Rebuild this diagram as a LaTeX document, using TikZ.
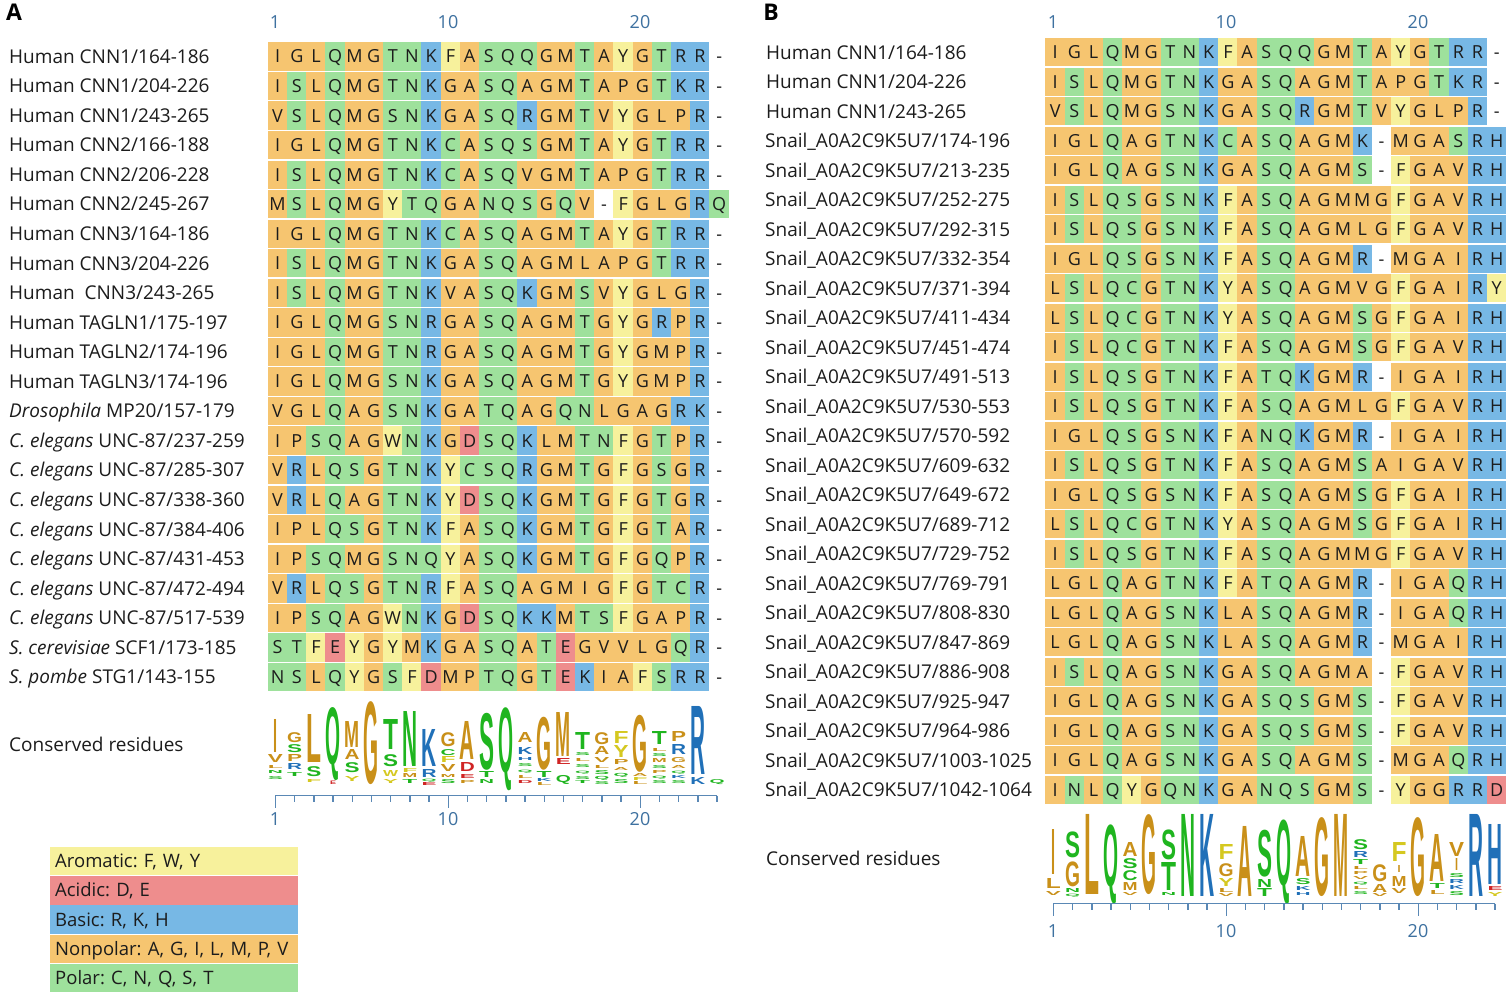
\documentclass[tikz,border=0pt]{standalone}
\usepackage{fontspec}
\setmainfont{Open Sans}
\newfontfamily\logofont{Liberation Sans}
\usepackage{graphicx}
\definecolor{cAro}{HTML}{F7F19C}
\definecolor{cAci}{HTML}{EE8D8D}
\definecolor{cBas}{HTML}{77B8E5}
\definecolor{cNon}{HTML}{F6C570}
\definecolor{cPol}{HTML}{9EE19C}
\definecolor{numblue}{HTML}{3E71A0}
\definecolor{axblue}{HTML}{5A88B5}
\definecolor{lAro}{HTML}{D5C820}
\definecolor{lAci}{HTML}{D02424}
\definecolor{lBas}{HTML}{2070B8}
\definecolor{lNon}{HTML}{C99019}
\definecolor{lPol}{HTML}{1FB51F}
\definecolor{txt}{HTML}{1C1C1C}
\makeatletter
\def\defres#1#2{\expandafter\def\csname rc@#1\endcsname{c#2}\expandafter\def\csname lc@#1\endcsname{l#2}}
\defres{F}{Aro}\defres{W}{Aro}\defres{Y}{Aro}
\defres{D}{Aci}\defres{E}{Aci}
\defres{R}{Bas}\defres{K}{Bas}\defres{H}{Bas}
\defres{A}{Non}\defres{G}{Non}\defres{I}{Non}\defres{L}{Non}\defres{M}{Non}\defres{P}{Non}\defres{V}{Non}
\defres{C}{Pol}\defres{N}{Pol}\defres{Q}{Pol}\defres{S}{Pol}\defres{T}{Pol}
\expandafter\def\csname rc@-\endcsname{white}
\newcount\resi
\newcount\lgn
\newcommand\seqrow[4]{%
  \resi=0
  \edef\seqstr{#4}%
  \expandafter\seqrow@i\expandafter{\seqstr}{#1}{#2}{#3}%
}
\def\seqrow@i#1#2#3#4{%
  \@tfor\resch:=#1\do{%
    \advance\resi by 1
    \edef\rescol{\csname rc@\resch\endcsname}%
    \pgfmathsetmacro\myXC{#3+(\the\resi-0.5)*19.2}%
    \node[cell,fill=\rescol] (#2c\the\resi) at (\myXC,#4) {\resch};%
  }%
}
\newcommand\logoL[5][15]{%
  \pgfmathsetmacro\myLX{\lgx+(#2-1)*19.2}%
  \pgfmathsetmacro\myLH{#3-#4}%
  \edef\lcc{\csname lc@#5\endcsname}%
  \global\advance\lgn by 1
  \node[logo,text=\lcc] (lg\the\lgn) at (\myLX,#3) {\resizebox*{#1pt}{\myLH pt}{\logofont\bfseries #5}};%
}
\makeatother
\frenchspacing
\begin{document}
\begin{tikzpicture}[x=1pt,y=-1pt,
  cell/.style={rectangle,inner sep=0pt,minimum width=19.45pt,minimum height=28.3pt,text height=12.9pt,text depth=0pt,font=\fontsize{18}{18}\selectfont,text=txt},
  lab/.style={anchor=west,inner sep=0pt,font=\fontsize{19}{20}\selectfont,text height=13.5pt,text depth=0pt,text=txt},
  num/.style={inner sep=0pt,font=\fontsize{18}{18}\selectfont,text=numblue,text height=12.9pt,text depth=0pt},
  logo/.style={anchor=south,inner sep=0pt},
  axis/.style={draw=axblue,line width=1.4pt},
  legbox/.style={anchor=west,inner xsep=5pt,inner ysep=0pt,minimum height=28.5pt,text width=238pt,align=left,font=\fontsize{18.5}{20}\selectfont\frenchspacing,text height=13.2pt,text depth=0pt,text=txt},
  panel/.style={inner sep=0pt,font=\fontsize{23}{24}\selectfont\bfseries,text=black}
]
\fill[white] (0,0) rectangle (1507,1004);
\useasboundingbox (0,0) rectangle (1507,1004);

% ---------------- Panel A ----------------
\node[panel] (panA) at (14,12) {A};
\node[num] (nA1) at (275,22) {1};
\node[num] (nA10) at (448,22) {10};
\node[num] (nA20) at (640,22) {20};
\foreach \s [count=\r] in {IGLQMGTNKFASQQGMTAYGTRR-,ISLQMGTNKGASQAGMTAPGTKR-,VSLQMGSNKGASQRGMTVYGLPR-,IGLQMGTNKCASQSGMTAYGTRR-,ISLQMGTNKCASQVGMTAPGTRR-,MSLQMGYTQGANQSGQV-FGLGRQ,IGLQMGTNKCASQAGMTAYGTRR-,ISLQMGTNKGASQAGMLAPGTRR-,ISLQMGTNKVASQKGMSVYGLGR-,IGLQMGSNRGASQAGMTGYGRPR-,IGLQMGTNRGASQAGMTGYGMPR-,IGLQMGSNKGASQAGMTGYGMPR-,VGLQAGSNKGATQAGQNLGAGRK-,IPSQAGWNKGDSQKLMTNFGTPR-,VRLQSGTNKYCSQRGMTGFGSGR-,VRLQAGTNKYDSQKGMTGFGTGR-,IPLQSGTNKFASQKGMTGFGTAR-,IPSQMGSNQYASQKGMTGFGQPR-,VRLQSGTNRFASQAGMIGFGTCR-,IPSQAGWNKGDSQKKMTSFGAPR-,STFEYGYMKGASQATEGVVLGQR-,NSLQYGSFDMPTQGTEKIAFSRR-}{
  \pgfmathsetmacro\yc{41.7+(\r-0.5)*29.55}
  \seqrow{A\r}{268}{\yc}{\s}
}
\foreach \lab [count=\r] in {Human CNN1/164-186,Human CNN1/204-226,Human CNN1/243-265,Human CNN2/166-188,Human CNN2/206-228,Human CNN2/245-267,Human CNN3/164-186,Human CNN3/204-226,Human\ \ CNN3/243-265,Human TAGLN1/175-197,Human TAGLN2/174-196,Human TAGLN3/174-196,\textit{Drosophila} MP20/157-179,\textit{C. elegans} UNC-87/237-259,\textit{C. elegans} UNC-87/285-307,\textit{C. elegans} UNC-87/338-360,\textit{C. elegans} UNC-87/384-406,\textit{C. elegans} UNC-87/431-453,\textit{C. elegans} UNC-87/472-494,\textit{C. elegans} UNC-87/517-539,\textit{S. cerevisiae} SCF1/173-185,\textit{S. pombe} STG1/143-155}{
  \pgfmathsetmacro\yc{41.7+(\r-0.5)*29.55}
  \node[lab] (Alab\r) at (9,\yc) {\lab};
}
\node[lab] (consA) at (9,745) {Conserved residues};
% logo A
\def\lgx{275.4}
\logoL[4]{1}{753}{720}{I}\logoL{1}{763}{755}{V}\logoL{1}{769}{766}{L}\logoL{1}{774}{771}{N}\logoL{1}{780}{777}{S}
\logoL{2}{743}{733}{G}\logoL{2}{753}{745}{S}\logoL{2}{762}{755}{P}\logoL{2}{770}{764}{R}\logoL{2}{777}{773}{T}
\logoL{3}{763}{715}{L}\logoL{3}{777}{767}{S}\logoL{3}{783}{780}{F}
\logoL{4}{781}{708}{Q}\logoL[6]{4}{785}{781.5}{E}
\logoL{5}{748}{722}{M}\logoL{5}{760}{750}{A}\logoL{5}{773}{763}{S}\logoL{5}{782}{777}{Y}
\logoL{6}{785}{702}{G}
\logoL{7}{750}{720}{T}\logoL{7}{767}{755}{S}\logoL{7}{777}{771}{W}\logoL{7}{784}{780}{Y}
\logoL{8}{767}{712}{N}\logoL{8}{773}{769}{F}\logoL{8}{778}{774}{M}\logoL{8}{784}{780}{T}
\logoL{9}{767}{730}{K}\logoL{9}{778}{770}{R}\logoL{9}{782}{779}{Q}\logoL{9}{786}{783}{E}
\logoL{10}{747}{733}{G}\logoL{10}{756}{750}{C}\logoL{10}{763}{757}{F}\logoL{10}{772}{765}{V}\logoL{10}{778}{775}{M}\logoL{10}{784}{780}{S}
\logoL{11}{760}{722}{A}\logoL{11}{772}{763}{D}\logoL{11}{779}{775}{E}\logoL{11}{784}{781}{P}
\logoL{12}{770}{713}{S}\logoL{12}{778}{772}{T}\logoL{12}{784}{780}{N}
\logoL{13}{791}{708}{Q}
\logoL{14}{743}{733}{A}\logoL{14}{755}{748}{K}\logoL{14}{761}{758}{H}\logoL{14}{767}{764}{S}\logoL{14}{773}{770}{Q}\logoL{14}{779}{776}{L}\logoL{14}{784}{781}{D}
\logoL{15}{770}{717}{G}\logoL{15}{778}{772}{T}\logoL{15}{782}{779}{K}\logoL{15}{786}{783}{L}
\logoL{16}{757}{713}{M}\logoL{16}{765}{759}{E}\logoL{16}{785}{776}{Q}
\logoL{17}{750}{733}{T}\logoL{17}{756}{753}{S}\logoL{17}{762}{759}{L}\logoL{17}{768}{765}{S}\logoL{17}{774}{771}{Q}\logoL{17}{780}{777}{S}\logoL{17}{784}{781}{T}
\logoL{18}{745}{733}{G}\logoL{18}{755}{747}{A}\logoL{18}{763}{758}{V}\logoL{18}{769}{766}{L}\logoL{18}{775}{771}{S}\logoL{18}{781}{777}{Q}\logoL{18}{785}{782}{S}
\logoL{19}{744}{732}{F}\logoL{19}{758}{746}{Y}\logoL{19}{765}{760}{P}\logoL{19}{771}{768}{A}\logoL{19}{778}{774}{Q}\logoL{19}{784}{780}{S}
\logoL{20}{772}{715}{G}\logoL{20}{777}{774}{A}\logoL{20}{781}{778}{F}\logoL{20}{785}{782}{L}
\logoL{21}{745}{732}{T}\logoL{21}{752}{749}{L}\logoL{21}{757}{754}{S}\logoL{21}{763}{759}{M}\logoL{21}{769}{766}{S}\logoL{21}{774}{771}{P}\logoL{21}{779}{776}{Q}\logoL{21}{784}{781}{S}
\logoL{22}{742}{732}{P}\logoL{22}{755}{745}{R}\logoL{22}{763}{758}{G}\logoL{22}{769}{766}{A}\logoL{22}{774}{771}{Q}\logoL{22}{779}{776}{K}\logoL{22}{784}{781}{S}
\logoL{23}{775}{707}{R}\logoL{23}{785}{778}{K}
\logoL{24}{785}{780}{Q}
% axis A
\draw[axis] (275.4,795.5) -- (717,795.5);
\foreach \i in {1,...,24}{
  \pgfmathsetmacro\tx{275.4+(\i-1)*19.2}
  \draw[axis] (\tx,795.5) -- (\tx,801.5);
}
\foreach \i in {1,10,20}{
  \pgfmathsetmacro\tx{275.4+(\i-1)*19.2}
  \draw[axis] (\tx,795.5) -- (\tx,808);
}
\node[num] (aA1) at (275,819) {1};
\node[num] (aA10) at (448,819) {10};
\node[num] (aA20) at (640,819) {20};

% legend
\node[legbox,fill=cAro] (legAro) at (50,861) {Aromatic: F, W, Y};
\node[legbox,fill=cAci] (legAci) at (50,890.3) {Acidic: D, E};
\node[legbox,fill=cBas] (legBas) at (50,919.6) {Basic: R, K, H};
\node[legbox,fill=cNon] (legNon) at (50,948.9) {Nonpolar: A, G, I, L, M, P, V};
\node[legbox,fill=cPol] (legPol) at (50,978.2) {Polar: C, N, Q, S, T};

% ---------------- Panel B ----------------
\node[panel] (panB) at (771,12) {B};
\node[num] (nB1) at (1053,22) {1};
\node[num] (nB10) at (1226,22) {10};
\node[num] (nB20) at (1418,22) {20};
\foreach \s [count=\r] in {IGLQMGTNKFASQQGMTAYGTRR-,ISLQMGTNKGASQAGMTAPGTKR-,VSLQMGSNKGASQRGMTVYGLPR-,IGLQAGTNKCASQAGMK-MGASRH,IGLQAGSNKGASQAGMS-FGAVRH,ISLQSGSNKFASQAGMMGFGAVRH,ISLQSGSNKFASQAGMLGFGAVRH,IGLQSGSNKFASQAGMR-MGAIRH,LSLQCGTNKYASQAGMVGFGAIRY,LSLQCGTNKYASQAGMSGFGAIRH,ISLQCGTNKFASQAGMSGFGAVRH,ISLQSGTNKFATQKGMR-IGAIRH,ISLQSGTNKFASQAGMLGFGAVRH,IGLQSGSNKFANQKGMR-IGAIRH,ISLQSGTNKFASQAGMSAIGAVRH,IGLQSGSNKFASQAGMSGFGAIRH,LSLQCGTNKYASQAGMSGFGAIRH,ISLQSGTNKFASQAGMMGFGAVRH,LGLQAGTNKFATQAGMR-IGAQRH,LGLQAGSNKLASQAGMR-IGAQRH,LGLQAGSNKLASQAGMR-MGAIRH,ISLQAGSNKGASQAGMA-FGAVRH,IGLQAGSNKGASQSGMS-FGAVRH,IGLQAGSNKGASQSGMS-FGAVRH,IGLQAGSNKGASQAGMS-MGAQRH,INLQYGQNKGANQSGMS-YGGRRD}{
  \pgfmathsetmacro\yc{37.5+(\r-0.5)*29.5}
  \seqrow{B\r}{1045.5}{\yc}{\s}
}
\foreach \lab [count=\r] in {Human CNN1/164-186,Human CNN1/204-226,Human CNN1/243-265}{
  \pgfmathsetmacro\yc{37.5+(\r-0.5)*29.5}
  \node[lab] (Blab\r) at (766,\yc) {\lab};
}
\foreach \rg [count=\r from 4] in {174-196,213-235,252-275,292-315,332-354,371-394,411-434,451-474,491-513,530-553,570-592,609-632,649-672,689-712,729-752,769-791,808-830,847-869,886-908,925-947,964-986,1003-1025,1042-1064}{
  \pgfmathsetmacro\yc{37.5+(\r-0.5)*29.5}
  \node[lab] (Blab\r) at (765,\yc) {Snail\_A0A2C9K5U7/\rg};
}
\node[lab] (consB) at (766,859) {Conserved residues};
% logo B
\def\lgx{1053.4}
\logoL[4]{1}{875}{830}{I}\logoL{1}{889}{879}{L}\logoL{1}{896}{892}{V}
\logoL{2}{858}{832}{S}\logoL{2}{887}{862}{G}\logoL{2}{893}{889}{N}\logoL{2}{897}{894}{Q}
\logoL{3}{895}{815}{L}
\logoL{4}{904}{825}{Q}
\logoL{5}{857}{843}{A}\logoL{5}{869}{859}{S}\logoL{5}{881}{871}{C}\logoL{5}{891}{883}{M}\logoL{5}{896}{893}{V}
\logoL{6}{895}{815}{G}
\logoL{7}{860}{830}{S}\logoL{7}{891}{863}{T}\logoL{7}{896}{893}{N}
\logoL{8}{897}{815}{N}
\logoL{9}{897}{815}{K}
\logoL{10}{860}{845}{F}\logoL{10}{877}{864}{G}\logoL{10}{887}{879}{Y}\logoL{10}{893}{889}{L}\logoL{10}{897}{894}{V}
\logoL{11}{897}{827}{A}
\logoL{12}{877}{830}{S}\logoL{12}{888}{880}{N}\logoL{12}{897}{889}{T}
\logoL{13}{904}{820}{Q}
\logoL{14}{877}{837}{A}\logoL{14}{885}{879}{S}\logoL{14}{891}{887}{K}\logoL{14}{896}{893}{H}
\logoL{15}{897}{818}{G}
\logoL{16}{897}{815}{M}
\logoL{17}{850}{840}{S}\logoL{17}{858}{852}{R}\logoL{17}{865}{860}{T}\logoL{17}{870}{867}{L}\logoL{17}{875}{872}{P}\logoL{17}{880}{877}{V}\logoL{17}{885}{882}{Q}\logoL{17}{890}{887}{L}\logoL{17}{895}{892}{S}
\logoL{18}{882}{865}{G}\logoL{18}{893}{885}{A}\logoL{18}{897}{894}{V}
\logoL{19}{862}{843}{F}\logoL[3]{19}{873}{866}{I}\logoL{19}{887}{877}{M}\logoL{19}{894}{889}{V}
\logoL{20}{897}{818}{G}
\logoL{21}{882}{835}{A}\logoL{21}{889}{884}{T}\logoL{21}{895}{891}{L}
\logoL{22}{857}{843}{V}\logoL[3]{22}{871}{859}{I}\logoL{22}{878}{874}{S}\logoL{22}{884}{880}{R}\logoL{22}{890}{886}{K}\logoL{22}{896}{892}{S}
\logoL{23}{897}{815}{R}
\logoL{24}{885}{825}{H}\logoL{24}{891}{887}{E}\logoL{24}{897}{893}{Y}
% axis B
\draw[axis] (1053.4,903.5) -- (1495,903.5);
\foreach \i in {1,...,24}{
  \pgfmathsetmacro\tx{1053.4+(\i-1)*19.2}
  \draw[axis] (\tx,903.5) -- (\tx,910);
}
\foreach \i in {1,10,20}{
  \pgfmathsetmacro\tx{1053.4+(\i-1)*19.2}
  \draw[axis] (\tx,903.5) -- (\tx,916);
}
\node[num] (aB1) at (1053,931) {1};
\node[num] (aB10) at (1226,931) {10};
\node[num] (aB20) at (1418,931) {20};
\end{tikzpicture}
\end{document}
